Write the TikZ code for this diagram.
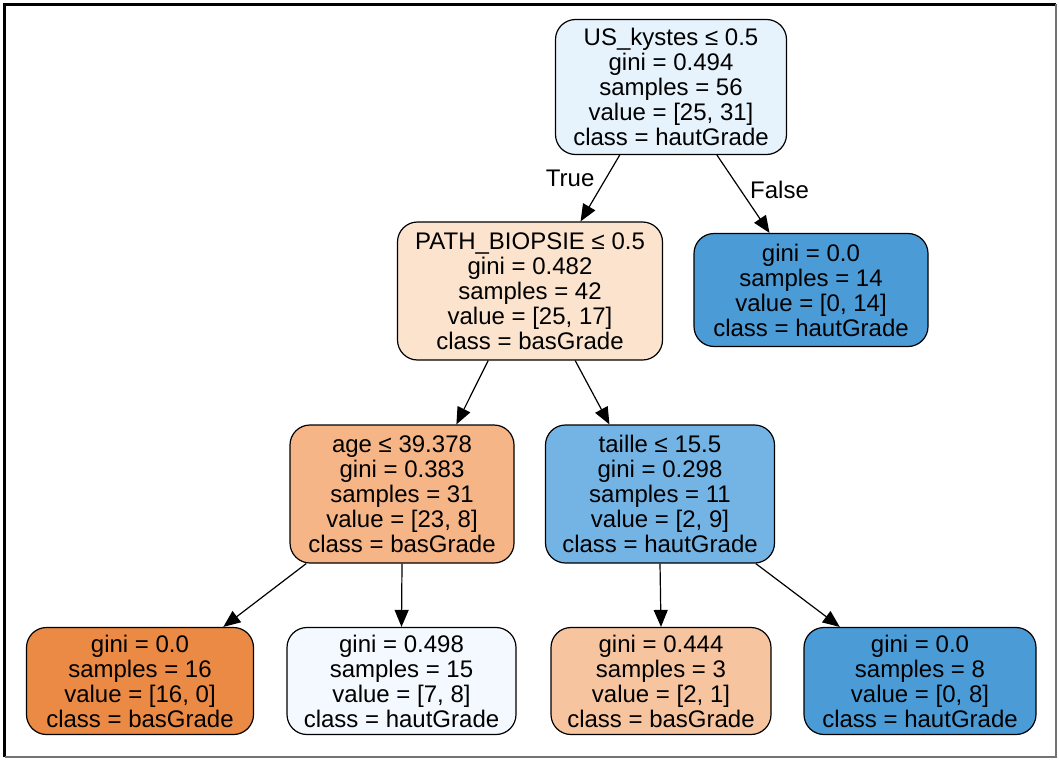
\documentclass[tikz,border=0pt]{standalone}
\usepackage{fontspec}
\setmainfont{Liberation Sans}
\usepackage{tikz}
\usetikzlibrary{shapes, calc, arrows.meta, positioning}

\definecolor{rootblue}{HTML}{E7F3FC}
\definecolor{pathorange}{HTML}{FCE3CD}
\definecolor{leafblue}{HTML}{4B9BD7}
\definecolor{ageorange}{HTML}{F5B586}
\definecolor{tailleblue}{HTML}{74B4E5}
\definecolor{leaforange}{HTML}{EA8A44}
\definecolor{paleblue}{HTML}{F3F9FE}
\definecolor{lightorange}{HTML}{F7C4A0}

\begin{document}
\begin{tikzpicture}[->,>={Triangle[length=17pt,width=14pt]},x=1pt,y=-1pt,semithick,
	font=\fontsize{24}{25}\selectfont]
	\tikzset{treenode/.style={draw, line width=1.2pt, rounded corners=20pt, align=center, inner sep=0pt},
		edgelabel/.style={inner sep=0pt, draw=none, fill=none}}
	\useasboundingbox (0,0) rectangle (1059,760);
	\draw[-, line width=3pt, black] (4.5,757) -- (4.5,4.5) -- (1056,4.5);
	\draw[-, line width=2pt, black!55] (1056,4.5) -- (1056,757) -- (4.5,757);
	\node[treenode, fill=rootblue, minimum width=231pt, minimum height=135pt] (0) at (671,87)
		{US\_kystes ≤ 0.5\\gini = 0.494\\samples = 56\\value = [25, 31]\\class = hautGrade};
	\node[treenode, fill=pathorange, minimum width=265pt, minimum height=138pt] (1) at (530,291)
		{PATH\_BIOPSIE ≤ 0.5\\gini = 0.482\\samples = 42\\value = [25, 17]\\class = basGrade};
	\node[treenode, fill=leafblue, minimum width=234pt, minimum height=113pt] (2) at (811,290)
		{gini = 0.0\\samples = 14\\value = [0, 14]\\class = hautGrade};
	\node[treenode, fill=ageorange, minimum width=224pt, minimum height=138pt] (3) at (402,494)
		{age ≤ 39.378\\gini = 0.383\\samples = 31\\value = [23, 8]\\class = basGrade};
	\node[treenode, fill=tailleblue, minimum width=229pt, minimum height=138pt] (4) at (660,494)
		{taille ≤ 15.5\\gini = 0.298\\samples = 11\\value = [2, 9]\\class = hautGrade};
	\node[treenode, fill=leaforange, minimum width=227pt, minimum height=107pt] (5) at (140,681)
		{gini = 0.0\\samples = 16\\value = [16, 0]\\class = basGrade};
	\node[treenode, fill=paleblue, minimum width=229pt, minimum height=107pt] (6) at (401.5,681)
		{gini = 0.498\\samples = 15\\value = [7, 8]\\class = hautGrade};
	\node[treenode, fill=lightorange, minimum width=220pt, minimum height=107pt] (7) at (661,681)
		{gini = 0.444\\samples = 3\\value = [2, 1]\\class = basGrade};
	\node[treenode, fill=leafblue, minimum width=232pt, minimum height=107pt] (8) at (920,681)
		{gini = 0.0\\samples = 8\\value = [0, 8]\\class = hautGrade};
	\path[line width=1.2pt]
		(0.233) edge node[edgelabel, pos=0.35, left=11pt] {True} (1.54)
		(0.304) edge node[edgelabel, pos=0.45, right=9pt] {False} (2.126)
		(1.239) edge (3.52.5)
		(1.303) edge (4.126)
		(3.216) edge (5.33.5)
		(3.south) edge (6.north)
		(4.south) edge (7.north)
		(4.324) edge (8.146.5);
\end{tikzpicture}
\end{document}
